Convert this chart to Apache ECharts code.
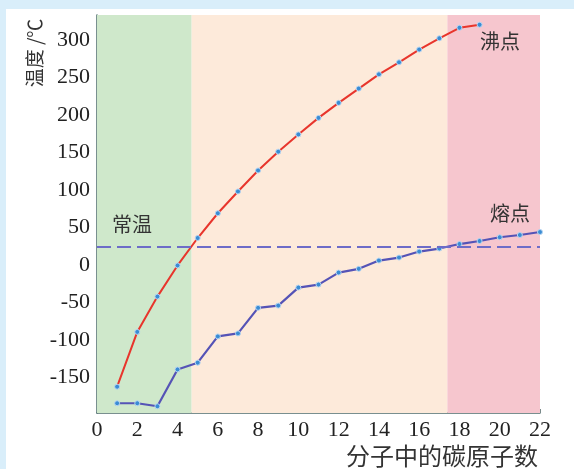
<!DOCTYPE html>
<html>
<head>
<meta charset="utf-8">
<script src="https://cdn.jsdelivr.net/npm/echarts@6/dist/echarts.min.js"></script>
<style>
	html, body {
		margin: 0;
		padding: 0;
		background: #d9eefa;
	}
	#chart {
		position: absolute;
		left: 6px;
		top: 9px;
		width: 568px;
		height: 460px;
		background: #fff;
	}
</style>
</head>
<body>
<div id="chart"></div>
<script>
	// carbon atoms per molecule
	const carbons = [1, 2, 3, 4, 5, 6, 7, 8, 9, 10, 11, 12, 13, 14, 15, 16, 17, 18, 19, 20, 21, 22]
	// boiling points (only up to C19 drawn)
	const boiling = [-162, -89, -42, -0.5, 36, 69, 98, 126, 151, 174, 196, 216, 235, 254, 270, 287, 302, 316, 320]
	// melting points
	const melting = [-184, -184, -188, -139, -130, -95, -91, -57, -54, -30, -26, -10, -5, 6, 10, 18, 22, 28, 32, 37, 40, 44]
	const xTicks = [0, 2, 4, 6, 8, 10, 12, 14, 16, 18, 20, 22]
	const yTicks = [-150, -100, -50, 0, 50, 100, 150, 200, 250, 300]
	const roomTemp = 25
	// band edges on the x axis: solid / liquid / high-boiling
	const bands = [0, 4.7, 17.4, 22]

	const chart = echarts.init(document.getElementById('chart'))

	const serif = '"Liberation Serif", "Times New Roman", serif'
	const cjk = '"Noto Sans CJK SC", sans-serif'

	const pair = (xs, ys) => ys.map((v, i) => [xs[i], v])

	let option = {
		backgroundColor: '#fff',
		animation: false,
		grid: {
			left: 91,
			right: 34,
			top: 6,
			bottom: 56
		},
		xAxis: {
			type: 'value',
			min: 0,
			max: 22,
			splitLine: { show: false },
			axisLine: { show: true, onZero: false, lineStyle: { color: '#4d6b6b', width: 1.5 } },
			axisTick: {
				show: true,
				inside: true,
				length: 4,
				customValues: xTicks,
				lineStyle: { color: '#7a8a8a' }
			},
			axisLabel: {
				customValues: xTicks,
				color: '#222',
				fontFamily: serif,
				fontSize: 22,
				margin: 6
			}
		},
		yAxis: {
			type: 'value',
			min: -197,
			max: 333,
			splitLine: { show: false },
			axisLine: { show: true, onZero: false, lineStyle: { color: '#4d6b6b', width: 1.5 } },
			axisTick: {
				show: true,
				inside: true,
				length: 5,
				customValues: yTicks,
				lineStyle: { color: '#7a8a8a' }
			},
			axisLabel: {
				customValues: yTicks,
				color: '#222',
				fontFamily: serif,
				fontSize: 22,
				margin: 7
			}
		},
		series: [{
			name: '沸点',
			type: 'line',
			data: pair(carbons, boiling),
			symbol: 'circle',
			symbolSize: 5,
			z: 3,
			lineStyle: { color: '#e8352c', width: 2 },
			itemStyle: { color: '#3a8cd4', borderColor: '#b8d6f2', borderWidth: 1 },
			markArea: {
				silent: true,
				label: { show: false },
				data: [
					[{ xAxis: bands[0], itemStyle: { color: '#cfe8cb' } }, { xAxis: bands[1] }],
					[{ xAxis: bands[1], itemStyle: { color: '#fdeada' } }, { xAxis: bands[2] }],
					[{ xAxis: bands[2], itemStyle: { color: '#f6c6ce' } }, { xAxis: bands[3] }]
				]
			}
		}, {
			name: '熔点',
			type: 'line',
			data: pair(carbons, melting),
			symbol: 'circle',
			symbolSize: 5,
			z: 3,
			lineStyle: { color: '#5553b6', width: 2.2 },
			itemStyle: { color: '#3a8cd4', borderColor: '#b8d6f2', borderWidth: 1 },
			markLine: {
				silent: true,
				symbol: 'none',
				label: { show: false },
				lineStyle: { color: '#6d6cc8', type: [14, 6], width: 1.8 },
				data: [{ yAxis: roomTemp }]
			}
		}],
		graphic: [{
			type: 'text',
			x: 29,
			y: 44,
			z: 100,
			rotation: Math.PI / 2,
			style: {
				text: '温度 /℃',
				font: '19px ' + cjk,
				fill: '#333',
				align: 'center',
				verticalAlign: 'middle'
			}
		}, {
			type: 'text',
			right: 36,
			bottom: 1,
			z: 100,
			style: {
				text: '分子中的碳原子数',
				font: '24px ' + cjk,
				fill: '#333'
			}
		}, {
			type: 'text',
			left: 106,
			top: 205,
			z: 100,
			style: { text: '常温', font: '20px ' + cjk, fill: '#333' }
		}, {
			type: 'text',
			left: 474,
			top: 22,
			z: 100,
			style: { text: '沸点', font: '20px ' + cjk, fill: '#333' }
		}, {
			type: 'text',
			left: 484,
			top: 194,
			z: 100,
			style: { text: '熔点', font: '20px ' + cjk, fill: '#333' }
		}]
	}
	chart.setOption(option)
</script>
</body>
</html>
